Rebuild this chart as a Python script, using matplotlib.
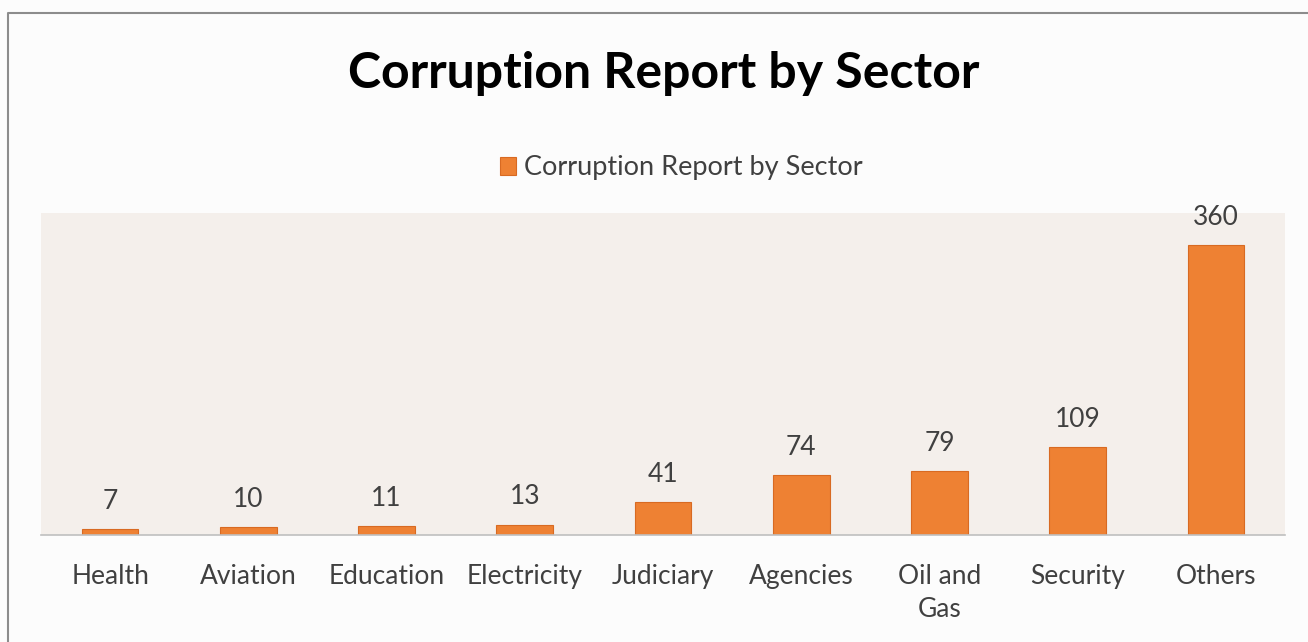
import matplotlib.pyplot as plt
from matplotlib.lines import Line2D

sectors = ['Health', 'Aviation', 'Education', 'Electricity', 'Judiciary',
           'Agencies', 'Oil and\nGas', 'Security', 'Others']
reports = [7, 10, 11, 13, 41, 74, 79, 109, 360]
series_name = 'Corruption Report by Sector'

plt.rcParams['font.family'] = ['Lato', 'DejaVu Sans']

W, H = 1308, 642
fig = plt.figure(figsize=(W / 100, H / 100), dpi=100)
fig.patch.set_facecolor('#fcfcfc')

# grey chart border (top and left edges visible)
fig.lines.append(Line2D([8 / W, 8 / W, 1], [0, 1 - 13 / H, 1 - 13 / H],
                        transform=fig.transFigure, color='#8c8c8c', lw=1.5))

ax = fig.add_axes([41 / W, 1 - 535 / H, (1285 - 41) / W, (535 - 213) / H])
ax.set_facecolor('#f4efeb')
ax.set_zorder(2)

x = range(len(sectors))
bars = ax.bar(x, reports, width=0.41, color='#ee8133', edgecolor='#d86a22',
              lw=0.8, label=series_name, zorder=2)

for xi, v in zip(x, reports):
    ax.annotate(str(v), (xi, v), xytext=(0, 11), textcoords='offset points',
                ha='center', va='bottom', fontsize=19, color='#404040')

ax.set_xlim(-0.5, len(sectors) - 0.5)
ax.set_ylim(0, 400)
ax.set_yticks([])
ax.set_xticks(list(x))
ax.set_xticklabels(sectors, fontsize=19, color='#404040', linespacing=1.37, va='top')
ax.tick_params(axis='x', length=0, pad=21)
for side in ['top', 'left', 'right']:
    ax.spines[side].set_visible(False)
ax.spines['bottom'].set_color('#bfbfbf')
ax.spines['bottom'].set_linewidth(1.2)

fig.text(664 / W, 1 - 74 / H, series_name, ha='center', va='center',
         fontsize=36, fontweight='bold', color='black')

leg = fig.legend(handles=[bars], labels=[series_name], loc='center',
                 bbox_to_anchor=(681 / W, 1 - 168 / H), frameon=False,
                 fontsize=19.5, handlelength=0.6, handleheight=0.6,
                 handletextpad=0.3, labelcolor='#404040')

fig.savefig('out.png', dpi=100, facecolor=fig.get_facecolor())
